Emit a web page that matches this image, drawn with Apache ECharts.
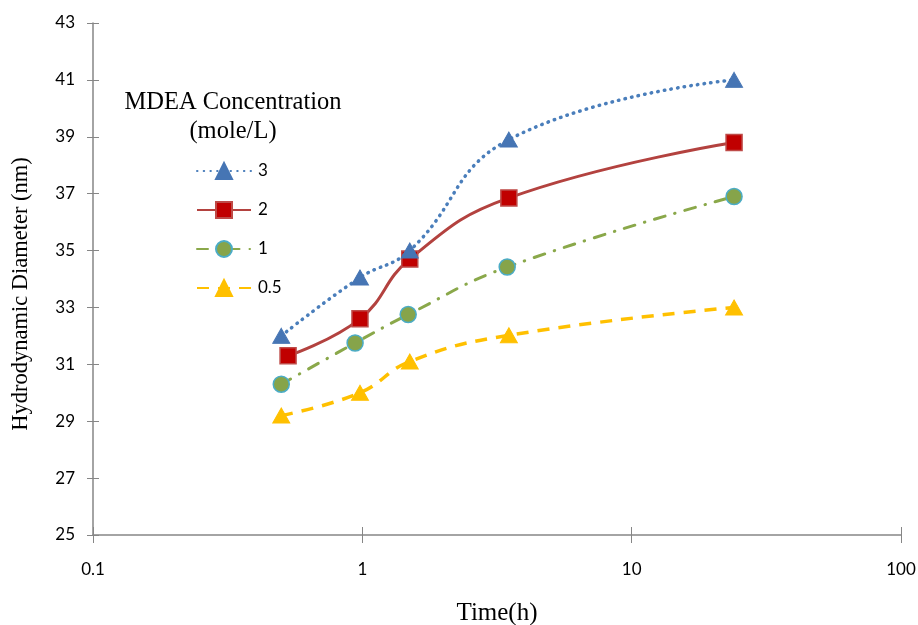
<!DOCTYPE html>
<html>
<head>
<meta charset="utf-8">
<script src="https://cdn.jsdelivr.net/npm/echarts@6/dist/echarts.min.js"></script>
<style>
  html, body { margin: 0; padding: 0; background: #fff; }
  #chart { width: 918px; height: 625px; }
</style>
</head>
<body>
<div id="chart"></div>
<script>
// Hydrodynamic diameter over time for four MDEA concentrations
const seriesNames = ['3', '2', '1', '0.5'];
const timeC3   = [0.5, 0.98, 1.5, 3.5, 24];
const diamC3   = [32.0, 34.05, 35.0, 38.9, 41.0];
const timeC2   = [0.53, 0.98, 1.5, 3.5, 24];
const diamC2   = [31.3, 32.6, 34.7, 36.85, 38.8];
const timeC1   = [0.5, 0.94, 1.48, 3.45, 24];
const diamC1   = [30.3, 31.75, 32.75, 34.42, 36.9];
const timeC05  = [0.5, 0.98, 1.5, 3.5, 24];
const diamC05  = [29.2, 30.0, 31.1, 32.02, 33.0];
const xTicks = [0.1, 1, 10, 100];
const yMin = 25, yMax = 43, yStep = 2;

const pairs = (xs, ys) => xs.map((x, i) => [x, ys[i]]);

const axisGrey = '#868686';
const tickFont = { fontFamily: 'Lato', fontSize: 17, color: '#000' };

const chart = echarts.init(document.getElementById('chart'), null, { renderer: 'canvas' });

chart.setOption({
  animation: false,
  backgroundColor: '#fff',
  title: {
    text: 'MDEA Concentration\n(mole/L)',
    left: 228,
    top: 83,
    textAlign: 'center',
    textStyle: { fontFamily: 'Liberation Serif', fontSize: 24.5, fontWeight: 'normal', color: '#000', lineHeight: 29 }
  },
  legend: {
    orient: 'vertical',
    left: 191,
    top: 157,
    itemWidth: 54,
    itemHeight: 20,
    itemGap: 21,
    selectedMode: false,
    textStyle: { fontFamily: 'Lato', fontSize: 17, color: '#000', padding: [0, 0, 0, 2] },
    data: seriesNames
  },
  grid: { left: 93, right: 17, top: 23, bottom: 90, containLabel: false, outerBoundsMode: 'none' },
  xAxis: [{
    type: 'log',
    logBase: 10,
    min: xTicks[0],
    max: xTicks[xTicks.length - 1],
    name: 'Time(h)',
    nameLocation: 'middle',
    nameGap: 66,
    nameTextStyle: { fontFamily: 'Liberation Serif', fontSize: 25, color: '#000' },
    axisLine: { lineStyle: { color: axisGrey, width: 1.5 } },
    axisTick: { show: true, length: 8, lineStyle: { color: axisGrey, width: 1 } },
    axisLabel: Object.assign({ margin: 26, formatter: v => String(+v.toPrecision(3)) }, tickFont),
    splitLine: { show: false }
  }, {
    type: 'log',
    logBase: 10,
    min: xTicks[0],
    max: xTicks[xTicks.length - 1],
    position: 'bottom',
    axisLine: { show: false },
    axisTick: { show: true, inside: true, length: 8, lineStyle: { color: axisGrey, width: 1 } },
    axisLabel: { show: false },
    splitLine: { show: false }
  }],
  yAxis: [{
    type: 'value',
    min: yMin,
    max: yMax,
    interval: yStep,
    name: 'Hydrodynamic Diameter (nm)',
    nameLocation: 'middle',
    nameGap: 60,
    nameTextStyle: { fontFamily: 'Liberation Serif', fontSize: 22.5, color: '#000', padding: [0, 30, 0, 0] },
    axisLine: { show: true, lineStyle: { color: axisGrey, width: 1.5 } },
    axisTick: { show: true, length: 6, lineStyle: { color: axisGrey, width: 1 } },
    axisLabel: Object.assign({ margin: 18 }, tickFont),
    splitLine: { show: false }
  }, {
    type: 'value',
    min: yMin,
    max: yMax,
    interval: yStep,
    position: 'left',
    axisLine: { show: false },
    axisTick: { show: true, inside: true, length: 6, lineStyle: { color: axisGrey, width: 1 } },
    axisLabel: { show: false },
    splitLine: { show: false }
  }],
  series: [
    {
      name: '3', type: 'line', smooth: 0.45,
      data: pairs(timeC3, diamC3),
      symbol: 'triangle', symbolSize: [17, 15],
      itemStyle: { color: '#4675B4', borderColor: '#4675B4', borderWidth: 1 },
      lineStyle: { color: '#4A7EBB', width: 3.5, type: [0.5, 6.2], cap: 'round' },
      z: 4
    },
    {
      name: '2', type: 'line', smooth: 0.45,
      data: pairs(timeC2, diamC2),
      symbol: 'rect', symbolSize: 16,
      itemStyle: { color: '#C00000', borderColor: '#BE4B48', borderWidth: 1.5 },
      lineStyle: { color: '#B3423F', width: 3 },
      z: 3
    },
    {
      name: '1', type: 'line', smooth: 0.45,
      data: pairs(timeC1, diamC1),
      symbol: 'circle', symbolSize: 16,
      itemStyle: { color: '#86A44A', borderColor: '#4BACC6', borderWidth: 1.5 },
      lineStyle: { color: '#8AA84A', width: 3, type: [11, 10, 0.5, 10], cap: 'round' },
      z: 2
    },
    {
      name: '0.5', type: 'line', smooth: 0.45,
      data: pairs(timeC05, diamC05),
      symbol: 'triangle', symbolSize: [17, 15],
      itemStyle: { color: '#FFC000', borderColor: '#FFC000', borderWidth: 1 },
      lineStyle: { color: '#FFC000', width: 3.5, type: [12, 9] },
      z: 1
    }
  ]
});
</script>
</body>
</html>
